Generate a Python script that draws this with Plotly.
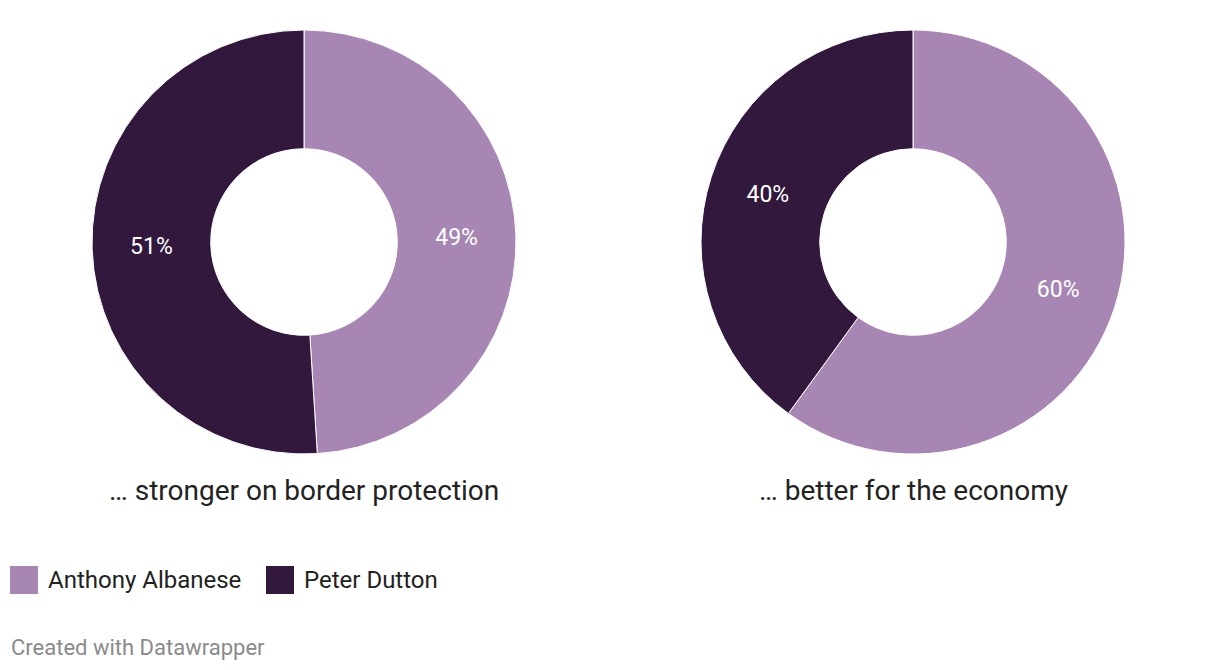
import plotly.graph_objects as go

W, H = 1220, 670
OFF = 8  # page body margin

candidates = ['Anthony Albanese', 'Peter Dutton']
colors = ['#a886b3', '#32183d']
questions = ['… stronger on border protection', '… better for the economy']
border_values = [49, 51]
economy_values = [60, 40]

FONT = 'Roboto, Arial, sans-serif'


def px_x(x):
    return (x - OFF) / W


def px_y(y):
    return 1 - (y - OFF) / H


def donut(values, cx):
    return go.Pie(
        labels=candidates,
        values=values,
        text=[f'{v}%' for v in values],
        textinfo='text',
        textposition='inside',
        insidetextorientation='horizontal',
        textfont=dict(family=FONT, size=23, color='white'),
        marker=dict(colors=colors, line=dict(color='white', width=1)),
        hole=0.44,
        sort=False,
        direction='clockwise',
        rotation=0,
        hoverinfo='label+percent',
        showlegend=False,
        domain=dict(x=[px_x(cx - 212), px_x(cx + 212)], y=[px_y(454), px_y(30)]),
    )


fig = go.Figure()
fig.add_trace(donut(border_values, 304))
fig.add_trace(donut(economy_values, 913))

annotations = []
for q, cx in zip(questions, [304, 913]):
    annotations.append(dict(
        text=q, x=px_x(cx), y=px_y(490), xref='paper', yref='paper',
        xanchor='center', yanchor='middle', showarrow=False,
        font=dict(family=FONT, size=28, color='#222222'),
    ))

shapes = []
for name, col, sx in zip(candidates, colors, [10, 266]):
    shapes.append(dict(
        type='rect', xref='paper', yref='paper',
        x0=px_x(sx), x1=px_x(sx + 28), y0=px_y(594), y1=px_y(566),
        fillcolor=col, line=dict(width=0),
    ))
    annotations.append(dict(
        text=name, x=px_x(sx + 36), y=px_y(580), xref='paper', yref='paper',
        xanchor='left', yanchor='middle', showarrow=False,
        font=dict(family=FONT, size=24, color='#222222'),
    ))

annotations.append(dict(
    text='Created with Datawrapper', x=px_x(9), y=px_y(647),
    xref='paper', yref='paper', xanchor='left', yanchor='middle',
    showarrow=False, font=dict(family=FONT, size=22, color='#8a8a8a'),
))

fig.update_layout(
    width=W, height=H,
    margin=dict(l=0, r=0, t=0, b=0),
    paper_bgcolor='white',
    plot_bgcolor='white',
    annotations=annotations,
    shapes=shapes,
)

fig.write_html('out.html')
